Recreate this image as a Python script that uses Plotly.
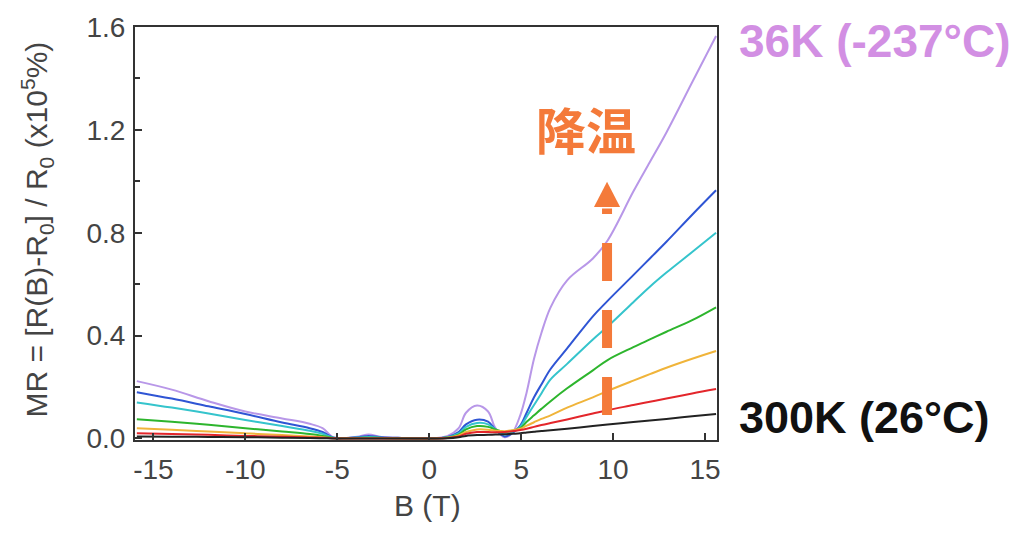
import plotly.graph_objects as go

# Magnetic field grid (T)
B_T = [-15.9, -14, -12, -10, -8, -6.5, -5.8, -5.2, -4.5, -3.8, -3.3, -2.6, -1.5, 0,
       1.0, 1.6, 2.0, 2.6, 3.2, 3.6, 4.1, 4.5, 4.95, 5.3, 5.7, 6.1, 6.6, 7.5, 8.9,
       9.7, 11.1, 12.0, 12.9, 14.3, 15.6]

# MR (x10^5 %) for each temperature
mr_36K = [0.223, 0.19, 0.145, 0.105, 0.078, 0.057, 0.04, 0.004, 0.002, 0.008, 0.015, 0.006, 0.002, 0.0,
          0.01, 0.04, 0.10, 0.128, 0.105, 0.04, 0.005, 0.02, 0.09, 0.18, 0.31, 0.41, 0.51, 0.615, 0.70,
          0.77, 0.96, 1.075, 1.19, 1.385, 1.565]
mr_blue = [0.18, 0.155, 0.125, 0.095, 0.062, 0.04, 0.025, 0.003, 0.002, 0.006, 0.01, 0.005, 0.002, 0.0,
           0.006, 0.025, 0.055, 0.073, 0.065, 0.035, 0.008, 0.02, 0.05, 0.10, 0.16, 0.21, 0.27, 0.35, 0.475,
           0.535, 0.635, 0.70, 0.765, 0.87, 0.965]
mr_cyan = [0.14, 0.12, 0.097, 0.072, 0.048, 0.03, 0.018, 0.003, 0.002, 0.004, 0.006, 0.003, 0.001, 0.0,
           0.005, 0.02, 0.045, 0.06, 0.055, 0.035, 0.015, 0.025, 0.045, 0.085, 0.13, 0.175, 0.23, 0.29, 0.385,
           0.435, 0.53, 0.59, 0.645, 0.725, 0.80]
mr_green = [0.075, 0.065, 0.053, 0.04, 0.027, 0.017, 0.01, 0.002, 0.001, 0.002, 0.003, 0.002, 0.001, 0.0,
            0.004, 0.015, 0.035, 0.048, 0.045, 0.035, 0.025, 0.03, 0.04, 0.065, 0.09, 0.115, 0.145, 0.195, 0.265,
            0.305, 0.355, 0.385, 0.415, 0.46, 0.51]
mr_orange = [0.04, 0.034, 0.027, 0.02, 0.013, 0.008, 0.005, 0.001, 0.001, 0.001, 0.001, 0.001, 0.0, 0.0,
             0.003, 0.012, 0.025, 0.035, 0.034, 0.03, 0.028, 0.032, 0.038, 0.05, 0.063, 0.076, 0.09, 0.12, 0.16,
             0.185, 0.225, 0.25, 0.275, 0.31, 0.34]
mr_red = [0.02, 0.017, 0.014, 0.01, 0.007, 0.004, 0.003, 0.001, 0.0, 0.0, 0.0, 0.0, 0.0, 0.0,
          0.002, 0.008, 0.018, 0.025, 0.025, 0.024, 0.025, 0.028, 0.033, 0.038, 0.045, 0.052, 0.06, 0.074, 0.097,
          0.11, 0.13, 0.143, 0.155, 0.175, 0.192]
mr_300K = [0.008, 0.007, 0.006, 0.005, 0.003, 0.002, 0.001, 0.0, 0.0, 0.0, 0.0, 0.0, 0.0, 0.0,
           0.001, 0.005, 0.01, 0.013, 0.014, 0.015, 0.016, 0.018, 0.02, 0.023, 0.026, 0.029, 0.032, 0.038, 0.048,
           0.054, 0.064, 0.07, 0.076, 0.086, 0.095]

series = [
    ("36K", mr_36K, "#b897e8"),
    ("blue", mr_blue, "#2f55d4"),
    ("cyan", mr_cyan, "#35c4cc"),
    ("green", mr_green, "#2db52d"),
    ("orange", mr_orange, "#f0b43a"),
    ("red", mr_red, "#e3262b"),
    ("300K", mr_300K, "#222222"),
]

x_ticks = [-15, -10, -5, 0, 5, 10, 15]
x_tick_text = ["-15", "-10", "-5", "0", "5", "10", "15"]
y_ticks = [0.0, 0.4, 0.8, 1.2, 1.6]
y_tick_text = ["0.0", "0.4", "0.8", "1.2", "1.6"]

# arrow (dashed) in data units
arrow_x = 9.67
arrow_y0, arrow_y1 = 0.091, 0.894
head_base, head_tip, head_half = 0.90, 0.998, 0.71

ORANGE = "#f47a3a"
PURPLE = "#d28fe3"
TICKFONT = dict(family="Liberation Sans, Arial", size=28, color="#444444")
TITLEFONT = dict(family="Liberation Sans, Arial", size=30, color="#444444")

fig = go.Figure()
for name, vals, col in series:
    fig.add_trace(go.Scatter(x=B_T, y=vals, mode="lines", name=name,
                             line=dict(color=col, width=2, shape="spline", smoothing=1.0),
                             showlegend=False))

fig.add_shape(type="line", x0=arrow_x, x1=arrow_x, y0=arrow_y0, y1=arrow_y1,
              xref="x", yref="y", line=dict(color=ORANGE, width=10, dash="38px,29px"))
fig.add_shape(type="path", xref="x", yref="y",
              path=f"M {arrow_x-head_half},{head_base} L {arrow_x+head_half},{head_base} L {arrow_x},{head_tip} Z",
              fillcolor=ORANGE, line=dict(color=ORANGE, width=0))

fig.update_layout(
    width=1025, height=533,
    margin=dict(l=135, r=308, t=24, b=93),
    paper_bgcolor="white", plot_bgcolor="white",
    xaxis=dict(range=[-16.0, 15.65], tickvals=x_ticks, ticktext=x_tick_text, ticks="inside", ticklen=7,
               tickwidth=1.5, tickcolor="#333", showline=True, linecolor="#333", linewidth=2, mirror=True,
               showgrid=False, zeroline=False, tickfont=TICKFONT, ticklabelstandoff=3),
    yaxis=dict(range=[-0.006, 1.6], tickvals=y_ticks, ticktext=y_tick_text, ticks="inside", ticklen=7,
               tickwidth=1.5, tickcolor="#333", showline=True, linecolor="#333", linewidth=2, mirror=True,
               showgrid=False, zeroline=False, tickfont=TICKFONT, ticklabelstandoff=2,
               minor=dict(dtick=0.2, tick0=0, ticks="inside", ticklen=5, tickcolor="#333")),
)

annos = [
    dict(text="<b>36K (-237°C)</b>", x=1.034, y=0.966, xanchor="left", yanchor="middle",
         font=dict(family="Liberation Sans, Arial", size=46, color=PURPLE)),
    dict(text="<b>300K (26°C)</b>", x=1.034, y=0.055, xanchor="left", yanchor="middle",
         font=dict(family="Liberation Sans, Arial", size=45, color="#111111")),
    dict(text="<b>降温</b>", x=0.775, y=0.755, xanchor="center", yanchor="middle",
         font=dict(family="Noto Sans CJK SC", size=50, color=ORANGE)),
    dict(text="B (T)", x=0.503, y=-0.159, xanchor="center", yanchor="middle",
         font=TITLEFONT),
    dict(text="MR = [R(B)-R<sub>0</sub>] / R<sub>0</sub> (x10<sup>5</sup>%)", x=-0.168, y=0.51,
         xanchor="center", yanchor="middle", textangle=-90, font=TITLEFONT),
]
for a in annos:
    fig.add_annotation(xref="paper", yref="paper", showarrow=False, **a)

fig.write_html("out.html")
